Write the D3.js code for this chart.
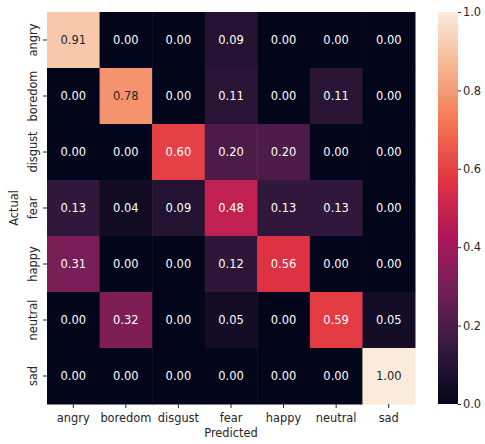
<!DOCTYPE html>
<html><head><meta charset="utf-8">
<script src="https://cdn.jsdelivr.net/npm/d3@7"></script>
<style>body{margin:0;background:#fff}text{font-family:"DejaVu Sans",sans-serif}</style>
</head><body><svg id="c" width="485" height="444"></svg>
<script>
const categories = ["angry","boredom","disgust","fear","happy","neutral","sad"];
const rowAngry   = [0.91,0.00,0.00,0.09,0.00,0.00,0.00];
const rowBoredom = [0.00,0.78,0.00,0.11,0.00,0.11,0.00];
const rowDisgust = [0.00,0.00,0.60,0.20,0.20,0.00,0.00];
const rowFear    = [0.13,0.04,0.09,0.48,0.13,0.13,0.00];
const rowHappy   = [0.31,0.00,0.00,0.12,0.56,0.00,0.00];
const rowNeutral = [0.00,0.32,0.00,0.05,0.00,0.59,0.05];
const rowSad     = [0.00,0.00,0.00,0.00,0.00,0.00,1.00];
const matrix = [rowAngry,rowBoredom,rowDisgust,rowFear,rowHappy,rowNeutral,rowSad];
const cbTicks = [0.0,0.2,0.4,0.6,0.8,1.0];

const rocketStops = ["#03051a","#35193e","#701f57","#ad1759","#e13342","#f37651","#f6b48f","#faebdd"];
const color = d3.scaleLinear()
  .domain(rocketStops.map((_,i)=>i/(rocketStops.length-1)))
  .range(rocketStops).interpolate(d3.interpolateRgb).clamp(true);

const svg = d3.select("#c");
const L=47,R=415,T=12,B=404;
const x = d3.scaleBand().domain(categories).range([L,R]);
const y = d3.scaleBand().domain(categories).range([T,B]);

const cells = [];
matrix.forEach((row,i)=>row.forEach((v,j)=>cells.push({r:categories[i],c:categories[j],v})));

svg.append("g").selectAll("rect").data(cells).join("rect")
  .attr("x",d=>x(d.c)).attr("y",d=>y(d.r))
  .attr("width",x.bandwidth()+0.5).attr("height",y.bandwidth()+0.5)
  .attr("fill",d=>color(d.v));

function lum(c){
  const o=d3.rgb(c);
  const f=v=>{v/=255;return v<=0.03928?v/12.92:Math.pow((v+0.055)/1.055,2.4);};
  return 0.2126*f(o.r)+0.7152*f(o.g)+0.0722*f(o.b);
}
svg.append("g").selectAll("text").data(cells).join("text")
  .attr("x",d=>x(d.c)+x.bandwidth()/2).attr("y",d=>y(d.r)+y.bandwidth()/2)
  .attr("text-anchor","middle").attr("dominant-baseline","central")
  .attr("font-size","11.5px")
  .attr("fill",d=>lum(color(d.v))>0.408?"#262626":"#ffffff")
  .text(d=>d.v.toFixed(2));

const xAxis = svg.append("g").attr("transform",`translate(0,${B})`)
  .call(d3.axisBottom(x).tickSize(4).tickPadding(6));
xAxis.select(".domain").remove();
xAxis.selectAll("text").attr("font-size","11.4px").attr("fill","#262626").style("font-family","DejaVu Sans");
xAxis.selectAll("line").attr("stroke","#262626");

const yAxis = svg.append("g").attr("transform",`translate(${L},0)`)
  .call(d3.axisLeft(y).tickSize(4).tickPadding(3));
yAxis.select(".domain").remove();
yAxis.selectAll("line").attr("stroke","#262626");
yAxis.selectAll("text").attr("font-size","11.4px").attr("fill","#262626").style("font-family","DejaVu Sans")
  .attr("x",0).attr("y",0).attr("dy",null)
  .attr("text-anchor","middle")
  .attr("transform","translate(-10,0) rotate(-90)");

svg.append("text").attr("x",(L+R)/2).attr("y",437).attr("text-anchor","middle")
  .attr("font-size","11.4px").attr("fill","#262626").text("Predicted");
svg.append("text").attr("transform",`translate(18,${(T+B)/2}) rotate(-90)`).attr("text-anchor","middle")
  .attr("font-size","11.4px").attr("fill","#262626").text("Actual");

// colorbar
const CL=438,CR=458;
const cy = d3.scaleLinear().domain([0,1]).range([B,T]);
const defs = svg.append("defs");
const grad = defs.append("linearGradient").attr("id","g").attr("x1",0).attr("y1",1).attr("x2",0).attr("y2",0);
grad.selectAll("stop").data(d3.range(0,1.0001,0.02)).join("stop")
  .attr("offset",d=>d).attr("stop-color",d=>color(d));
svg.append("rect").attr("x",CL).attr("y",T).attr("width",CR-CL).attr("height",B-T).attr("fill","url(#g)");
const cAxis = svg.append("g").attr("transform",`translate(${CR},0)`)
  .call(d3.axisRight(cy).tickValues(cbTicks).tickFormat(d3.format(".1f")).tickSize(3).tickPadding(2));
cAxis.select(".domain").remove();
cAxis.selectAll("line").attr("stroke","#262626");
cAxis.selectAll("text").attr("font-size","11.4px").attr("fill","#262626").style("font-family","DejaVu Sans");
</script></body></html>
